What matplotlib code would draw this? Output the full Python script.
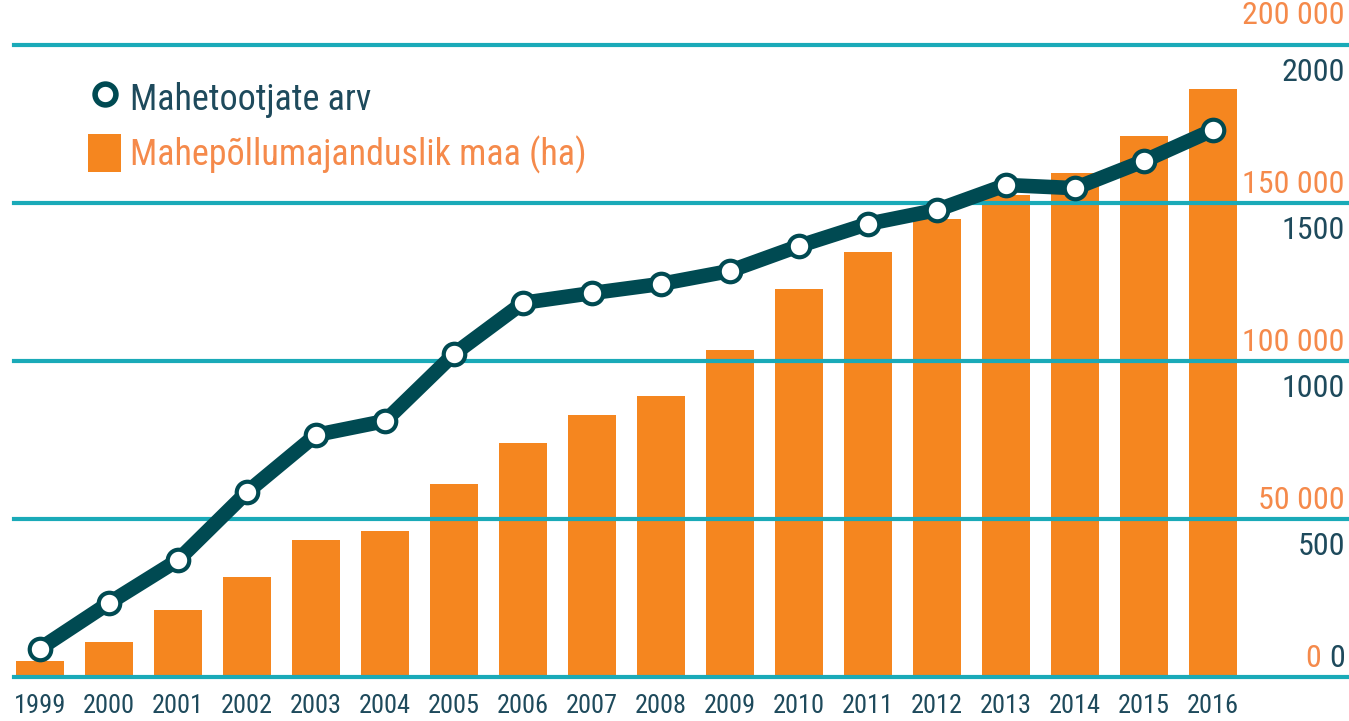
import matplotlib
matplotlib.use("Agg")
import matplotlib.pyplot as plt
from matplotlib import font_manager
from matplotlib.lines import Line2D
from matplotlib.patches import Patch
import matplotlib.transforms as mtransforms

years = ["1999", "2000", "2001", "2002", "2003", "2004", "2005", "2006", "2007",
         "2008", "2009", "2010", "2011", "2012", "2013", "2014", "2015", "2016"]
land_ha = [5000, 11000, 21200, 31600, 43300, 46200, 61000, 74000, 82900,
           88900, 103500, 122800, 134500, 144900, 152500, 159500, 171200, 186000]
producers = [90, 234, 370, 585, 766, 810, 1022, 1184, 1215,
             1244, 1285, 1364, 1434, 1478, 1557, 1547, 1633, 1731]
left_ticks = [0, 500, 1000, 1500, 2000]
right_ticks = [0, 50000, 100000, 150000, 200000]
right_labels = ["0", "50 000", "100 000", "150 000", "200 000"]
left_labels = ["0", "500", "1000", "1500", "2000"]
legend_labels = ["Mahetootjate arv", "Mahepõllumajanduslik maa (ha)"]

avail = {f.name for f in font_manager.fontManager.ttflist}
fam = None
for c in ["Liberation Sans Narrow", "DejaVu Sans Condensed", "Roboto Condensed", "Liberation Sans"]:
    if c in avail:
        fam = c
        break
plt.rcParams["font.family"] = [fam, "DejaVu Sans"] if fam else ["DejaVu Sans"]

ORANGE = "#F5861F"
ORANGE_TXT = "#F58A4B"
TEAL = "#1AAAB8"
DARK = "#004A52"
DARK_TXT = "#1E4A5C"

W, H = 1349, 721
fig = plt.figure(figsize=(W / 100, H / 100), dpi=100)
px_l, px_r, px_b, px_t = 14, 1349, 677, 45
ax = fig.add_axes([px_l / W, 1 - px_b / H, (px_r - px_l) / W, (px_b - px_t) / H])
ax2 = ax.twinx()

x = list(range(len(years)))
step = 69.0
ax.set_xlim((px_l - 40) / step, (px_r - 40) / step)
ax.set_ylim(0, 2000)
ax2.set_ylim(0, 200000)

ax2.bar(x, land_ha, width=0.69, color=ORANGE, zorder=1)
for v in left_ticks:
    ax2.axhline(v * 100, color=TEAL, lw=3, zorder=2, clip_on=False)

ax.set_zorder(ax2.get_zorder() + 1)
ax.patch.set_visible(False)
ax.plot(x, producers, color=DARK, lw=10.5, marker="o", ms=15.5, mfc="white",
        mec=DARK, mew=3, zorder=3, solid_capstyle="round", clip_on=False)

for a in (ax, ax2):
    for s in a.spines.values():
        s.set_visible(False)
    a.set_yticks([])
    a.tick_params(length=0)
ax.set_xticks(x)
ax.set_xticklabels(years, fontsize=19, color=DARK_TXT)
ax.tick_params(axis="x", pad=12, length=0)

tr = mtransforms.blended_transform_factory(ax.transAxes, ax.transData)
xr = 0.997
for i, (lv, ll, rl) in enumerate(zip(left_ticks, left_labels, right_labels)):
    if lv == 0:
        ax.annotate(rl, (xr, lv), xycoords=tr, xytext=(-17, 13), textcoords="offset points",
                    ha="right", va="center", fontsize=23, color=ORANGE_TXT, annotation_clip=False)
        ax.annotate(ll, (xr, lv), xycoords=tr, xytext=(0, 13), textcoords="offset points",
                    ha="right", va="center", fontsize=23, color=DARK_TXT, annotation_clip=False)
    else:
        up = 21.5 if lv == max(left_ticks) else 13
        ax.annotate(rl, (xr, lv), xycoords=tr, xytext=(0, up), textcoords="offset points",
                    ha="right", va="center", fontsize=23, color=ORANGE_TXT, annotation_clip=False)
        ax.annotate(ll, (xr, lv), xycoords=tr, xytext=(0, -20), textcoords="offset points",
                    ha="right", va="center", fontsize=23, color=DARK_TXT, annotation_clip=False)

handles = [Line2D([], [], ls="none", marker="o", ms=15, mfc="white", mec=DARK, mew=4),
           Patch(facecolor=ORANGE, edgecolor="none")]
leg = fig.legend(handles, legend_labels, loc="upper left", bbox_to_anchor=(74 / W, 1 - 64 / H),
                 frameon=False, fontsize=26, handlelength=0.9, handleheight=1.25,
                 handletextpad=0.25, labelspacing=0.45, borderaxespad=0)
leg.get_texts()[0].set_color(DARK_TXT)
leg.get_texts()[1].set_color(ORANGE_TXT)

fig.savefig("out.png", dpi=100)
